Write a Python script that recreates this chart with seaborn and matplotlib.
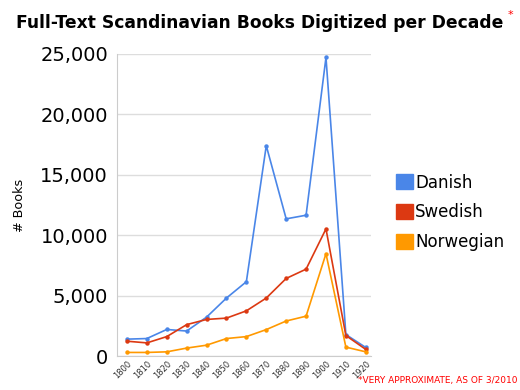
import numpy as np
import pandas as pd
import matplotlib
matplotlib.use("Agg")
import matplotlib.pyplot as plt
import seaborn as sns
from matplotlib.patches import Patch
from matplotlib.ticker import FuncFormatter

decades = [1800, 1810, 1820, 1830, 1840, 1850, 1860, 1870, 1880, 1890, 1900, 1910, 1920]
danish = [1400, 1450, 2200, 2070, 3220, 4800, 6150, 17400, 11350, 11650, 24700, 1780, 710]
swedish = [1230, 1090, 1610, 2600, 3030, 3140, 3740, 4800, 6420, 7190, 10520, 1700, 550]
norwegian = [300, 300, 350, 660, 900, 1450, 1610, 2190, 2900, 3300, 8470, 740, 350]
languages = ["Danish", "Swedish", "Norwegian"]
colors = ["#4a86e8", "#dc3912", "#ff9900"]

df = pd.DataFrame({
    "decade": decades * 3,
    "books": danish + swedish + norwegian,
    "language": sum([[l] * len(decades) for l in languages], []),
})

sns.set_style("white")
plt.rcParams["font.family"] = ["DejaVu Sans"]
plt.rcParams["text.color"] = "black"
plt.rcParams["axes.labelcolor"] = "black"
plt.rcParams["xtick.color"] = "black"
plt.rcParams["ytick.color"] = "black"

fig = plt.figure(figsize=(5.2, 3.9), dpi=100)
ax = fig.add_axes([0.225, 0.087, 0.488, 0.775])

sns.lineplot(data=df, x="decade", y="books", hue="language", palette=colors,
             marker="o", markersize=3.2, markeredgewidth=0, linewidth=1.2,
             legend=False, ax=ax)

ax.set_xlim(1795, 1922.5)
ax.set_ylim(0, 25000)
ax.set_yticks([0, 5000, 10000, 15000, 20000, 25000])
ax.yaxis.set_major_formatter(FuncFormatter(lambda v, p: f"{int(v):,}"))
ax.set_xticks(decades)
ax.set_xticklabels([str(d) for d in decades], rotation=45, fontsize=6,
                   ha="right", rotation_mode="anchor", color="#333333")
ax.tick_params(axis="y", labelsize=14, length=0, pad=6.5)
ax.tick_params(axis="x", length=0, pad=2)
ax.grid(axis="y", color="#dddddd", linewidth=1)
ax.set_axisbelow(True)
for s in ["top", "right"]:
    ax.spines[s].set_visible(False)
ax.spines["left"].set_color("#cccccc")
ax.spines["bottom"].set_color("#cccccc")
ax.set_xlabel("")
ax.set_ylabel("# Books", fontsize=9.2)
ax.yaxis.set_label_coords(-0.358, 0.5)

handles = [Patch(facecolor=c, edgecolor=c, label=l) for c, l in zip(colors, languages)]
fig.legend(handles=handles, loc="upper left", bbox_to_anchor=(0.749, 0.572),
           frameon=False, fontsize=12, handlelength=1.0, handleheight=1.0,
           handletextpad=0.15, labelspacing=0.7, borderaxespad=0)

fig.text(0.5, 0.941, "Full-Text Scandinavian Books Digitized per Decade",
         ha="center", va="center", fontsize=12.3, fontweight="bold")
fig.text(0.982, 0.962, "*", color="red", fontsize=8, ha="center", va="center")
fig.text(0.995, 0.013, "*VERY APPROXIMATE, AS OF 3/2010", color="red",
         fontsize=6.5, ha="right", va="bottom")

fig.savefig("out.png", dpi=100)
